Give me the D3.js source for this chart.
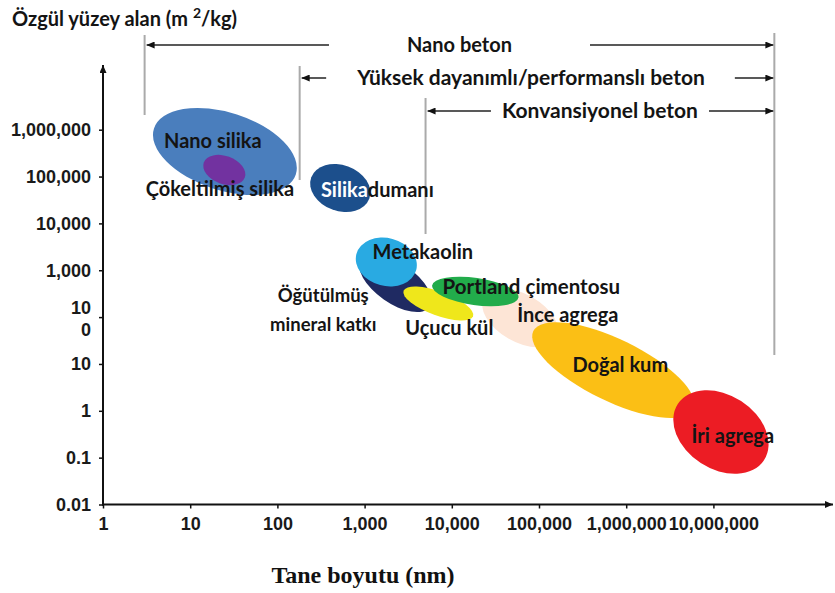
<html>
    <head>
        <title>Tane boyutu - özgül yüzey alanı</title>
        <style>
            body {
                margin: 0;
                background: #fff;
            }
            .lbl, .ann, .ytitle {
                font-family: Lato, "Open Sans", sans-serif;
                font-weight: bold;
                fill: #141414;
            }
            .tick text {
                font-family: "Liberation Sans", Arial, sans-serif;
                font-weight: bold;
                font-size: 18px;
                fill: #1a1a1a;
            }
            .tick line {
                stroke: #111;
                stroke-width: 1.5;
            }
            .xtitle {
                font-family: "Liberation Serif", "Times New Roman", serif;
                font-weight: bold;
                font-size: 24px;
                fill: #111;
            }
        </style>
    </head>
    <body>
        <svg id="chart"></svg>
        <script src="https://cdn.jsdelivr.net/npm/d3@7"></script>
        <script>
            const width = 835;
            const height = 593;

            // malzemeler (çizim sırası = üst üste binme sırası)
            const materials = ["Nano silika", "Çökeltilmiş silika", "Silika dumanı", "Öğütülmüş mineral katkı", "Metakaolin",
                               "Uçucu kül", "İnce agrega", "Portland çimentosu", "Doğal kum", "İri agrega"];
            const sizeMid  = [25, 24.6, 526, 2250, 1774, 7000, 61000, 18600, 711000, 12200000];   // nm
            const areaMid  = [343000, 138000, 56900, 535, 1500, 195, 96, 352, 7.4, 0.352];      // m2/kg
            const sizeSpan = [0.855, 0.25, 0.355, 0.48, 0.355, 0.424, 0.48, 0.5, 1.02, 0.59];    // dekad (yarı eksen)
            const areaSpan = [0.83, 0.30, 0.49, 0.43, 0.51, 0.256, 0.51, 0.29, 0.66, 0.79];      // dekad (yarı eksen)
            const tilt     = [18, 20, 20, 35, 15, 20, 30, 8, 26, 33];                            // derece

            // etiketler
            const labelLines = [["Nano silika"], ["Çökeltilmiş silika"], ["Silikadumanı"], ["Öğütülmüş", "mineral katkı"], ["Metakaolin"],
                                ["Uçucu kül"], ["İnce agrega"], ["Portland çimentosu"], ["Doğal kum"], ["İri agrega"]];
            const labelSize = [18.2, 21.9, 1400, 336, 4650, 9360, 214000, 81600, 855000, 16700000];
            const labelArea = [406000, 38500, 36600, 210, 1740, 41.5, 78.5, 311, 6.73, 0.206];
            const labelFont = [20, 20, 20, 18.5, 20, 20, 20, 20.5, 20, 20];

            // beton türleri (nm aralıkları)
            const concreteTypes = ["Nano beton", "Yüksek dayanımlı/performanslı beton", "Konvansiyonel beton"];
            const concreteFrom = [3, 180, 5000];
            const concreteTo = 5e7;

            const xTicks = [1, 10, 100, 1000, 1e4, 1e5, 1e6, 1e7];
            const yTicks = [0.01, 0.1, 1, 10, 100, 1000, 1e4, 1e5, 1e6];

            const fills = ["#4a7ebd", "#7232a0", "#1c4f8c", "#1f2a62", "#29aae2",
                           "#efe71b", "#fde5d6", "#22ac4b", "#fbbf15", "#ec1c24"];

            // yerleşim
            const rowY = [45, 78, 111];
            const guideTop = [35, 66, 98];
            const guideBottom = [115, 180, 234];
            const arrowGap = [78, 30, 11];

            const svg = d3.select("#chart")
                .attr("width", width)
                .attr("height", height);

            const x = d3.scaleLog()
                .domain([1, 1e7])
                .range([103, 103 + 7 * 87.2]);
            const y = d3.scaleLog()
                .domain([0.01, 1e6])
                .range([504.5, 504.5 - 8 * 46.85]);

            const defs = svg.append("defs");
            defs.append("marker")
                .attr("id", "head")
                .attr("markerUnits", "userSpaceOnUse")
                .attr("viewBox", "0 0 8 7")
                .attr("markerWidth", 8)
                .attr("markerHeight", 7)
                .attr("refX", 8)
                .attr("refY", 3.5)
                .attr("orient", "auto")
                .append("path")
                .attr("d", "M0,0L8,3.5L0,7Z")
                .attr("fill", "#111");

            // elipsler
            svg.append("g")
                .selectAll("ellipse")
                .data(d3.range(materials.length))
                .join("ellipse")
                .attr("transform", i => `translate(${x(sizeMid[i])},${y(areaMid[i])}) rotate(${tilt[i]})`)
                .attr("rx", i => x(sizeMid[i] * Math.pow(10, sizeSpan[i])) - x(sizeMid[i]))
                .attr("ry", i => y(areaMid[i]) - y(areaMid[i] * Math.pow(10, areaSpan[i])))
                .attr("fill", i => fills[i]);

            // beton aralıkları
            const ann = svg.append("g");
            ann.append("line")
                .attr("x1", x(concreteTo)).attr("x2", x(concreteTo))
                .attr("y1", 33).attr("y2", 355)
                .attr("stroke", "#aaa").attr("stroke-width", 2);

            concreteTypes.forEach((name, i) => {
                const x0 = x(concreteFrom[i]);
                const x1 = x(concreteTo);
                ann.append("line")
                    .attr("x1", x0).attr("x2", x0)
                    .attr("y1", guideTop[i]).attr("y2", guideBottom[i])
                    .attr("stroke", "#aaa").attr("stroke-width", 2);
                const t = ann.append("text")
                    .attr("class", "ann")
                    .attr("x", (x0 + x1) / 2 - (i === 1 ? 6 : 0))
                    .attr("y", rowY[i] + 7)
                    .attr("text-anchor", "middle")
                    .style("font-size", i === 0 ? "20px" : "21px")
                    .text(name);
                const bb = t.node().getBBox();
                ann.append("line")
                    .attr("x1", bb.x - arrowGap[i]).attr("x2", x0 + 2)
                    .attr("y1", rowY[i]).attr("y2", rowY[i])
                    .attr("stroke", "#222").attr("stroke-width", 1.5)
                    .attr("marker-end", "url(#head)");
                ann.append("line")
                    .attr("x1", bb.x + bb.width + arrowGap[i]).attr("x2", x1 - 1)
                    .attr("y1", rowY[i]).attr("y2", rowY[i])
                    .attr("stroke", "#222").attr("stroke-width", 1.5)
                    .attr("marker-end", "url(#head)");
            });

            // eksenler
            const gX = svg.append("g")
                .attr("transform", `translate(0,${y(0.01)})`)
                .call(d3.axisBottom(x).tickValues(xTicks).tickFormat(d3.format(",")).tickSize(4).tickPadding(9));
            gX.select(".domain").remove();

            const gY = svg.append("g")
                .attr("transform", `translate(${x(1)},0)`)
                .call(d3.axisLeft(y).tickValues(yTicks).tickFormat(d3.format(",")).tickSize(4).tickPadding(8));
            gY.select(".domain").remove();

            // 100 etiketi iki satırda
            const t100 = gY.selectAll(".tick text").filter(d => d === 100);
            t100.text(null).attr("dy", null);
            t100.append("tspan").attr("x", -12).attr("y", -4).text("10");
            t100.append("tspan").attr("x", -12).attr("y", 18).text("0");

            svg.append("line")
                .attr("x1", x(1)).attr("x2", x(1))
                .attr("y1", y(0.01) + 1).attr("y2", 65)
                .attr("stroke", "#111").attr("stroke-width", 2)
                .attr("marker-end", "url(#head)");
            svg.append("line")
                .attr("x1", x(1) - 1).attr("x2", 833)
                .attr("y1", y(0.01)).attr("y2", y(0.01))
                .attr("stroke", "#111").attr("stroke-width", 2)
                .attr("marker-end", "url(#head)");

            // malzeme etiketleri
            const labels = svg.append("g")
                .selectAll("text")
                .data(d3.range(materials.length))
                .join("text")
                .attr("class", "lbl")
                .attr("text-anchor", "middle")
                .style("font-size", i => labelFont[i] + "px")
                .attr("x", i => x(labelSize[i]))
                .attr("y", i => y(labelArea[i]));

            labels.each(function (i) {
                const el = d3.select(this);
                labelLines[i].forEach((line, k) => {
                    if (line === "Silikadumanı") {
                        el.append("tspan").attr("fill", "#fff").text("Silika");
                        el.append("tspan").text("dumanı");
                    } else {
                        el.append("tspan")
                            .attr("x", x(labelSize[i]))
                            .attr("dy", k === 0 ? 0 : 29)
                            .text(line);
                    }
                });
            });

            // eksen başlıkları
            const yt = svg.append("text")
                .attr("class", "ytitle")
                .attr("x", 12)
                .attr("y", 26)
                .style("font-size", "20px");
            yt.append("tspan").text("Özgül yüzey alan (m ");
            yt.append("tspan").attr("dy", -8).style("font-size", "14px").text("2");
            yt.append("tspan").attr("dy", 8).text("/kg)");

            svg.append("text")
                .attr("class", "xtitle")
                .attr("x", 363)
                .attr("y", 583)
                .attr("text-anchor", "middle")
                .text("Tane boyutu (nm)");
        </script>
    </body>
</html>
